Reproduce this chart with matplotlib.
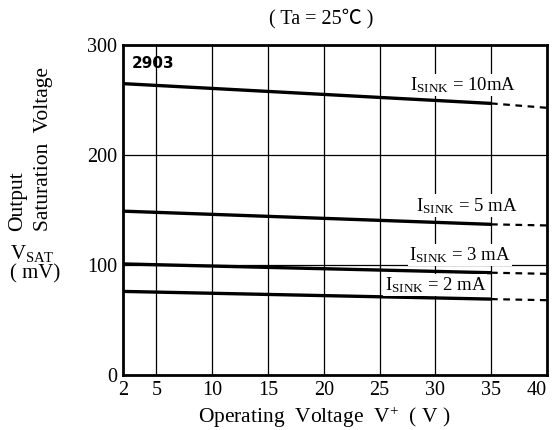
import matplotlib
matplotlib.use("Agg")
import matplotlib.pyplot as plt

plt.rcParams['font.family'] = ['Liberation Serif', 'Noto Sans CJK JP', 'DejaVu Sans']
plt.rcParams['mathtext.fontset'] = 'custom'
plt.rcParams['mathtext.rm'] = 'Liberation Serif'
plt.rcParams['mathtext.it'] = 'Liberation Serif:italic'

# Data
v_solid = [2, 35]
v_dash = [35, 40]
curves = {
    "10mA": [265, 247, 243],
    "5 mA": [149, 137, 136],
    "3 mA": [101, 93, 92],
    "2 mA": [76, 69, 68],
}
xticks = [2, 5, 10, 15, 20, 25, 30, 35, 40]
yticks = [0, 100, 200, 300]
label_pos = {
    "10mA": (32.5, 264),
    "5 mA": (32.8, 154),
    "3 mA": (32.2, 109),
    "2 mA": (30.0, 82),
}

fig = plt.figure(figsize=(5.54, 4.30), dpi=100)
ax = fig.add_axes([0.222, 0.128, 0.765, 0.767])
ax.set_xlim(2, 40)
ax.set_ylim(0, 300)

for x in xticks[1:-1]:
    ax.axvline(x, color='black', lw=0.9, zorder=1)
for y in [100, 200]:
    ax.axhline(y, color='black', lw=0.9, zorder=1)

for key, vals in curves.items():
    ax.plot(v_solid, vals[:2], color='black', lw=2.4, solid_capstyle='butt', zorder=3)
    ax.plot(v_dash, vals[1:], color='black', lw=1.6, ls=(0, (3, 2.5)), zorder=3)
    lx, ly = label_pos[key]
    ax.text(lx, ly, r"I$_{\mathrm{SINK}}$ = " + key, ha='center', va='center', fontsize=13.5,
            zorder=4, bbox=dict(facecolor='white', edgecolor='none', pad=1.0))

ax.text(2.8, 283, "2903", fontsize=11, fontweight='bold', family=['Liberation Sans Narrow', 'DejaVu Sans'],
        ha='left', va='center', zorder=4)

ax.set_xticks(xticks)
ax.set_xticklabels([str(t) for t in xticks])
ax.set_yticks(yticks)
ax.set_yticklabels([str(t) for t in yticks])
ax.tick_params(axis='x', length=0, labelsize=14.5, pad=4)
ax.tick_params(axis='y', length=0, labelsize=14.5, pad=4)
xl = ax.get_xticklabels()
xl[-1].set_horizontalalignment('right')
for s in ax.spines.values():
    s.set_linewidth(2.0)

fig.text(0.58, 0.958, "( Ta = 25℃ )", ha='center', va='center', fontsize=14.5)
fig.text(0.585, 0.03, r"Operating  Voltage  V$^{+}$  ( V )", ha='center', va='center', fontsize=15.5)
fig.text(0.031, 0.463, "Output", rotation=90, ha='center', va='bottom', fontsize=15.5)
fig.text(0.078, 0.463, "Saturation  Voltage", rotation=90, ha='center', va='bottom', fontsize=15.5)
fig.text(0.018, 0.41, r"V$_{\mathrm{SAT}}$", ha='left', va='center', fontsize=15)
fig.text(0.018, 0.363, "( mV)", ha='left', va='center', fontsize=15)

fig.savefig("out.png", dpi=100)
